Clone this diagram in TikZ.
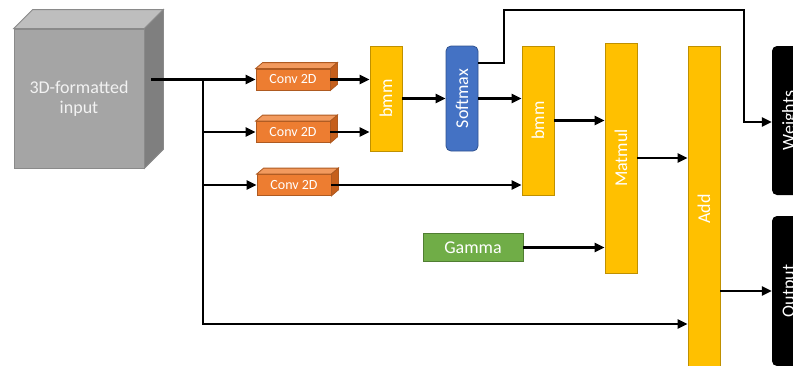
\documentclass[tikz,border=0pt]{standalone}
\usepackage{fontspec}
\setmainfont{Carlito}
\usetikzlibrary{arrows.meta,calc}
\definecolor{cubeF}{HTML}{A5A5A5}
\definecolor{cubeT}{HTML}{BEBEBE}
\definecolor{cubeS}{HTML}{7F7F7F}
\definecolor{cubeB}{HTML}{8A8A8A}
\definecolor{convF}{HTML}{ED7D31}
\definecolor{convT}{HTML}{F29A5E}
\definecolor{convS}{HTML}{C55F1C}
\definecolor{convB}{HTML}{AE5A21}
\definecolor{yelF}{HTML}{FFC000}
\definecolor{yelB}{HTML}{BF9000}
\definecolor{bluF}{HTML}{4472C4}
\definecolor{bluB}{HTML}{2F528F}
\definecolor{grnF}{HTML}{70AD47}
\definecolor{grnB}{HTML}{507E32}
\begin{document}
\begin{tikzpicture}[x=1pt,y=-1pt,
  arr/.style={line width=2.4pt,-{Triangle[length=10pt,width=9pt]}},
  lbl/.style={text=white,font=\fontsize{18}{20}\selectfont,inner sep=0pt},
  cubebox/.style={lbl,draw=cubeB,fill=cubeF,line width=0.8pt,minimum width=130pt,minimum height=139pt,align=center,text=white!95!black},
  convbox/.style={lbl,draw=convB,fill=convF,line width=0.8pt,minimum width=74pt,minimum height=21pt,font=\fontsize{14}{16}\selectfont},
  yelbox/.style={lbl,draw=yelB,fill=yelF,line width=0.8pt,minimum width=32pt},
  blkbox/.style={lbl,fill=black,rounded corners=5pt,minimum width=36pt},
]
\useasboundingbox (0,0) rectangle (793,365);
\clip (0,0) rectangle (793,365);

% cube
\node[cubebox] (cube) at (79,98.5) {3D-formatted\\input};
\filldraw[fill=cubeT,draw=cubeB,line width=0.8pt] (cube.north west) -- ++(19,-19) -- ($(cube.north east)+(19,-19)$) -- (cube.north east) -- cycle;
\filldraw[fill=cubeS,draw=cubeB,line width=0.8pt] (cube.north east) -- ++(19,-19) -- ($(cube.south east)+(19,-19)$) -- (cube.south east) -- cycle;

% conv boxes
\foreach \n/\x/\y in {conv1/293/79.5, conv2/293/132, conv3/294/185}{
  \node[convbox] (\n) at (\x,\y) {Conv 2D};
  \filldraw[fill=convT,draw=convB,line width=0.8pt] (\n.north west) -- ++(7,-6) -- ($(\n.north east)+(7,-6)$) -- (\n.north east) -- cycle;
  \filldraw[fill=convS,draw=convB,line width=0.8pt] (\n.north east) -- ++(7,-6) -- ($(\n.south east)+(7,-6)$) -- (\n.south east) -- cycle;
}

% main blocks
\node[yelbox,minimum height=105pt] (bmm1) at (386,98.5) {\rotatebox{90}{bmm}};
\node[lbl,draw=bluB,fill=bluF,line width=0.8pt,rounded corners=5pt,minimum width=32pt,minimum height=105pt] (softmax) at (462,98.5) {\rotatebox{90}{Softmax}};
\node[yelbox,minimum height=149pt] (bmm2) at (538,120.5) {\rotatebox{90}{bmm}};
\node[yelbox,minimum height=230pt] (matmul) at (621,158) {\rotatebox{90}{Matmul}};
\node[yelbox,minimum height=326pt] (add) at (704,209) {\rotatebox{90}{Add}};
\node[lbl,draw=grnB,fill=grnF,line width=0.8pt,minimum width=100pt,minimum height=28pt] (gamma) at (473,247.5) {Gamma};
\node[blkbox,minimum height=149pt] (weights) at (790,120.5) {\rotatebox{90}{Weights}};
\node[blkbox,minimum height=150pt] (output) at (790,291) {\rotatebox{90}{Output}};

% connectors
\coordinate (br) at (203,79.5);
\coordinate (t1) at (504,10);
\coordinate (t2) at (744,10);
\draw[arr] ($(cube.east|-conv1)+(7,0)$) -- (conv1.west);
\draw[arr] (br) |- (conv2.west);
\draw[arr] (br) |- (conv3.west);
\draw[arr] (br) |- ([yshift=-115pt]add.west);
\draw[arr] (conv1.east) -- (conv1.east -| bmm1.west);
\draw[arr] (conv2.east) -- (conv2.east -| bmm1.west);
\draw[arr] (bmm1.east) -- (softmax.west);
\draw[arr] (softmax.east) -- (softmax.east -| bmm2.west);
\draw[arr] (conv3.east) -- (conv3.east -| bmm2.west);
\draw[arr] ([yshift=35.5pt]softmax.east) -| (t1) -- (t2) |- ([yshift=-1.5pt]weights.west);
\draw[arr] (bmm2.east) -- (bmm2.east -| matmul.west);
\draw[arr] (matmul.east) -- (matmul.east -| add.west);
\draw[arr] (gamma.east) -- (gamma.east -| matmul.west);
\draw[arr] (add.east |- output.west) -- (output.west);
\end{tikzpicture}
\end{document}
